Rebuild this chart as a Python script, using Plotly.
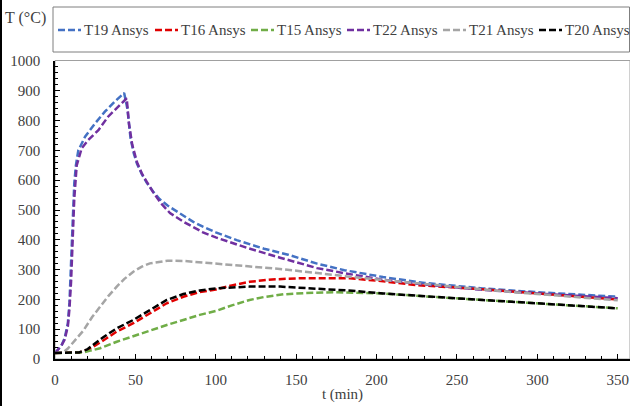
import plotly.graph_objects as go

# ---- data ----
t19_t = [0, 4, 6, 8, 9, 10, 11, 12, 13, 14.5, 18.7, 25, 31, 37, 43, 45, 47, 49, 51, 54, 57, 61, 65, 70, 78, 86, 92, 100, 113, 121, 130, 145, 163, 180, 204, 230, 266, 300, 325, 350]
t19_v = [20, 45, 70, 120, 190, 300, 460, 590, 650, 700, 746, 791, 830, 863, 893, 840, 740, 690, 655, 620, 592, 562, 537, 515, 488, 460, 444, 425, 399, 385, 370, 350, 320, 298, 275, 255, 237, 224, 216, 209]

t16_t = [0, 10, 15, 20, 23.8, 30, 38.4, 48.7, 59, 69.5, 79.8, 90, 100, 110, 121, 135, 152, 170, 183.5, 200, 225, 260, 287, 320, 350]
t16_v = [20, 20, 22, 30, 41, 62, 92, 120, 153, 187, 209, 225, 233, 247, 259, 267, 271, 272, 271, 263, 248, 236, 226, 212, 200]

t15_t = [0, 10, 17.6, 22, 28, 38.4, 48.7, 59, 69.5, 79.8, 90, 100.5, 110, 121, 130, 142, 155, 173, 190, 204, 230, 266, 300, 325, 350]
t15_v = [20, 20, 22, 28, 36, 58, 77, 97, 114, 131, 148, 162, 180, 198, 208, 217, 221, 224, 223, 220, 210, 198, 187, 179, 170]

t22_t = [0, 4, 6, 8, 9, 10, 11, 12, 13.5, 16.6, 20.7, 27, 33, 39.4, 44.6, 46, 48, 51, 54, 57, 61, 66, 71.5, 80, 86, 92, 100, 110, 120, 140, 163, 180, 204, 230, 266, 300, 325, 350]
t22_v = [20, 45, 65, 110, 170, 260, 400, 540, 650, 707, 735, 768, 813, 847, 875, 790, 720, 660, 623, 595, 560, 522, 490, 460, 442, 425, 408, 390, 372, 340, 305, 288, 266, 250, 232, 220, 212, 204]

t21_t = [0, 5, 8, 12, 17.6, 23, 28, 33, 38.4, 43, 48.7, 54, 59, 65, 70, 80, 90, 100, 120, 142, 160, 183.5, 210, 245, 275, 300, 325, 350]
t21_v = [20, 22, 35, 60, 95, 140, 175, 210, 243, 268, 293, 310, 321, 327, 330, 329, 325, 321, 311, 301, 290, 276, 262, 243, 229, 218, 207, 197]

t20_t = [0, 10, 15, 20, 23.8, 30, 38.4, 48.7, 59, 69.5, 79.8, 90, 100, 110, 121, 140, 162.7, 185, 204, 230, 266, 300, 325, 350]
t20_v = [20, 20, 22, 32, 47, 73, 103, 131, 164, 198, 218, 230, 237, 241, 243, 243, 237, 229, 220, 210, 198, 187, 179, 170]

names = ["T19 Ansys", "T16 Ansys", "T15 Ansys", "T22 Ansys", "T21 Ansys", "T20 Ansys"]
colors = ["#4472C4", "#E00000", "#70AD47", "#7030A0", "#A5A5A5", "#000000"]
series = [(t19_t, t19_v), (t16_t, t16_v), (t15_t, t15_v), (t22_t, t22_v), (t21_t, t21_v), (t20_t, t20_v)]

x_ticks = [0, 50, 100, 150, 200, 250, 300, 350]
y_ticks = [0, 100, 200, 300, 400, 500, 600, 700, 800, 900, 1000]

FONT = "Liberation Serif"
TXT = "#404040"
FS = 15
DASH = "7px,3px"

# plot-area geometry in pixels (for converting legend positions to paper coords)
L, R, T, B = 55, 0, 61, 47
PW, PH = 630 - L - R, 406 - T - B


def px_x(x):
    return (x - L) / PW


def px_y(y):
    return (406 - B - y) / PH


fig = go.Figure()
for (tx, ty), n, c in zip(series, names, colors):
    fig.add_trace(go.Scatter(x=tx, y=ty, name=n, mode="lines", showlegend=False,
                             line=dict(color=c, width=2.5, dash=DASH)))

fig.update_layout(
    width=630, height=406,
    margin=dict(l=L, r=R, t=T, b=B, autoexpand=False),
    paper_bgcolor="white", plot_bgcolor="white",
    font=dict(family=FONT, size=FS, color=TXT),
    showlegend=False,
    xaxis=dict(range=[0, 357.6], tickvals=x_ticks, showgrid=False, zeroline=False,
               automargin=False,
               showline=True, linecolor="#000000", linewidth=1.5,
               ticks="inside", ticklen=5, tickcolor="#000000",
               minor=dict(dtick=10, ticks="inside", ticklen=3, tickcolor="#000000"),
               ticklabelstandoff=6,
               tickfont=dict(family=FONT, size=FS, color=TXT),
               title=dict(text="t (min)", font=dict(family=FONT, size=FS, color=TXT), standoff=2)),
    yaxis=dict(range=[0, 1000], tickvals=y_ticks, showgrid=False, zeroline=False,
               automargin=False,
               showline=True, linecolor="#000000", linewidth=1.5,
               ticks="inside", ticklen=5, tickcolor="#000000",
               minor=dict(dtick=20, ticks="inside", ticklen=3, tickcolor="#000000"),
               ticklabelstandoff=10,
               tickfont=dict(family=FONT, size=FS, color=TXT)),
)

# plot-area frame, legend box, outer chart border
fig.add_shape(type="rect", xref="paper", yref="paper", x0=0, x1=1, y0=0, y1=px_y(60.5),
              line=dict(color="#A0A0A0", width=1), layer="below")
fig.add_shape(type="rect", xref="paper", yref="paper", x0=px_x(53), x1=px_x(629.5),
              y0=px_y(52), y1=px_y(7),
              line=dict(color="#7F7F7F", width=1), layer="below")
fig.add_shape(type="line", xref="paper", yref="paper", x0=px_x(1), x1=px_x(1),
              y0=px_y(406), y1=px_y(0), line=dict(color="#000000", width=2))

# legend (drawn as line samples + labels inside the legend box)
legend_text_x = [82, 179, 275, 371, 467, 563]
legend_y = 30
for n, c, tx0 in zip(names, colors, legend_text_x):
    fig.add_shape(type="line", xref="paper", yref="paper",
                  x0=px_x(tx0 - 24), x1=px_x(tx0 - 1), y0=px_y(legend_y), y1=px_y(legend_y),
                  line=dict(color=c, width=2.5, dash=DASH))
    fig.add_annotation(text=n, xref="paper", yref="paper", x=px_x(tx0), y=px_y(legend_y),
                       xanchor="left", yanchor="middle", showarrow=False,
                       font=dict(family=FONT, size=FS, color=TXT))

fig.add_annotation(text="T (°C)", xref="paper", yref="paper", x=px_x(3), y=px_y(18),
                   xanchor="left", yanchor="middle", showarrow=False,
                   font=dict(family=FONT, size=16, color=TXT))

fig.write_html("out.html", config={"displayModeBar": False},
               post_script="document.body.style.margin='0';document.body.style.padding='0';")
